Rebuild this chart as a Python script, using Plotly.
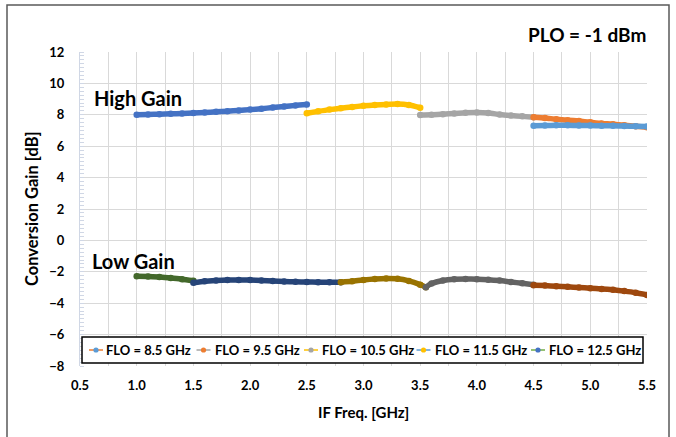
import plotly.graph_objects as go

# ---------------- data ----------------
# High-gain mode, conversion gain [dB] vs IF frequency [GHz]
hg_125_x = [1.0, 1.1, 1.2, 1.3, 1.4, 1.5, 1.6, 1.7, 1.8, 1.9, 2.0, 2.1, 2.2, 2.3, 2.4, 2.5]
hg_125_y = [8.00, 8.02, 8.04, 8.06, 8.09, 8.12, 8.15, 8.19, 8.23, 8.28, 8.33, 8.39, 8.46, 8.53, 8.60, 8.65]

hg_115_x = [2.5, 2.6, 2.7, 2.8, 2.9, 3.0, 3.1, 3.2, 3.3, 3.4, 3.5]
hg_115_y = [8.10, 8.22, 8.33, 8.42, 8.50, 8.57, 8.62, 8.66, 8.68, 8.62, 8.45]

hg_105_x = [3.5, 3.6, 3.7, 3.8, 3.9, 4.0, 4.1, 4.2, 4.3, 4.4, 4.5]
hg_105_y = [7.98, 8.00, 8.04, 8.08, 8.13, 8.15, 8.12, 8.02, 7.95, 7.90, 7.85]

hg_95_x = [4.5, 4.6, 4.7, 4.8, 4.9, 5.0, 5.1, 5.2, 5.3, 5.4, 5.5]
hg_95_y = [7.85, 7.80, 7.72, 7.66, 7.60, 7.52, 7.45, 7.40, 7.33, 7.27, 7.20]

hg_85_x = [4.5, 4.6, 4.7, 4.8, 4.9, 5.0, 5.1, 5.2, 5.3, 5.4, 5.5]
hg_85_y = [7.30, 7.32, 7.33, 7.33, 7.32, 7.32, 7.30, 7.30, 7.28, 7.27, 7.25]

# Low-gain mode
lg_a_x = [1.0, 1.1, 1.2, 1.3, 1.4, 1.5]
lg_a_y = [-2.28, -2.30, -2.33, -2.40, -2.47, -2.57]

lg_b_x = [1.5, 1.6, 1.7, 1.8, 1.9, 2.0, 2.1, 2.2, 2.3, 2.4, 2.5, 2.6, 2.7, 2.8]
lg_b_y = [-2.70, -2.60, -2.55, -2.52, -2.52, -2.53, -2.56, -2.59, -2.62, -2.64, -2.65, -2.66, -2.66, -2.66]

lg_c_x = [2.8, 2.9, 3.0, 3.1, 3.2, 3.3, 3.4, 3.5, 3.55]
lg_c_y = [-2.66, -2.60, -2.52, -2.46, -2.43, -2.45, -2.58, -2.82, -2.98]

lg_d_x = [3.55, 3.6, 3.7, 3.8, 3.9, 4.0, 4.1, 4.2, 4.3, 4.4, 4.5]
lg_d_y = [-2.98, -2.75, -2.55, -2.47, -2.46, -2.47, -2.50, -2.56, -2.65, -2.73, -2.82]

lg_e_x = [4.5, 4.6, 4.7, 4.8, 4.9, 5.0, 5.1, 5.2, 5.3, 5.4, 5.5]
lg_e_y = [-2.85, -2.88, -2.92, -2.96, -3.00, -3.04, -3.09, -3.15, -3.23, -3.33, -3.47]

legend_labels = ["FLO = 8.5 GHz", "FLO = 9.5 GHz", "FLO = 10.5 GHz", "FLO = 11.5 GHz", "FLO = 12.5 GHz"]

x_ticks = [0.5, 1.0, 1.5, 2.0, 2.5, 3.0, 3.5, 4.0, 4.5, 5.0, 5.5]
x_tick_text = ["0.5", "1.0", "1.5", "2.0", "2.5", "3.0", "3.5", "4.0", "4.5", "5.0", "5.5"]
y_ticks = [-8, -6, -4, -2, 0, 2, 4, 6, 8, 10, 12]

# ---------------- styling ----------------
FONT = "Lato"
series = [
    (hg_125_x, hg_125_y, "#4472C4"),
    (hg_115_x, hg_115_y, "#FFC000"),
    (hg_105_x, hg_105_y, "#A5A5A5"),
    (hg_95_x, hg_95_y, "#ED7D31"),
    (hg_85_x, hg_85_y, "#5B9BD5"),
    (lg_a_x, lg_a_y, "#43682B"),
    (lg_b_x, lg_b_y, "#264478"),
    (lg_c_x, lg_c_y, "#997300"),
    (lg_d_x, lg_d_y, "#636363"),
    (lg_e_x, lg_e_y, "#9E480E"),
]

fig = go.Figure()
for xs, ys, col in series:
    fig.add_trace(go.Scatter(
        x=xs, y=ys, mode="lines+markers",
        line=dict(color=col, width=5.5, shape="spline", smoothing=0.6),
        marker=dict(color=col, size=6.5),
        showlegend=False, hoverinfo="x+y",
    ))

# legend drawn in paper coordinates (line colour, marker colour per entry)
legend_line_cols = ["#ED7D31", "#A5A5A5", "#FFC000", "#5B9BD5", "#70AD47"]
legend_mark_cols = ["#5B9BD5", "#ED7D31", "#A5A5A5", "#FFC000", "#4472C4"]
PLOT_L, PLOT_W, PLOT_B, PLOT_H = 80, 567, 366, 314


def px_x(p):
    return (p - PLOT_L) / PLOT_W


def px_y(p):
    return (PLOT_B - p) / PLOT_H


shapes = []
annotations = []
# outer chart frame
shapes.append(dict(type="rect", xref="paper", yref="paper",
                   x0=px_x(7), x1=px_x(669), y0=px_y(460), y1=px_y(5),
                   line=dict(color="#595959", width=1.5), fillcolor="rgba(0,0,0,0)"))
# legend box
shapes.append(dict(type="rect", xref="paper", yref="paper",
                   x0=px_x(82), x1=px_x(643), y0=px_y(363), y1=px_y(337),
                   line=dict(color="#000000", width=1.5), fillcolor="white"))
sym_cx = [96, 203.5, 311, 423.5, 538]
txt_x = [104, 213, 320, 433, 547]
ly = px_y(350)
for i, lab in enumerate(legend_labels):
    shapes.append(dict(type="line", xref="paper", yref="paper",
                       x0=px_x(sym_cx[i] - 7), x1=px_x(sym_cx[i] + 7), y0=ly, y1=ly,
                       line=dict(color=legend_line_cols[i], width=1.5)))
    shapes.append(dict(type="circle", xref="paper", yref="paper",
                       xsizemode="pixel", ysizemode="pixel",
                       xanchor=px_x(sym_cx[i]), yanchor=ly,
                       x0=-2.6, x1=2.6, y0=-2.6, y1=2.6,
                       line=dict(color=legend_mark_cols[i], width=0),
                       fillcolor=legend_mark_cols[i]))
    annotations.append(dict(xref="paper", yref="paper", x=px_x(txt_x[i]), y=ly,
                            xanchor="left", yanchor="middle", showarrow=False,
                            text=lab, font=dict(family=FONT, size=13, color="black", weight="bold")))

# text labels
annotations += [
    dict(xref="x", yref="y", x=0.61, y=9.07, xanchor="left", yanchor="middle",
         showarrow=False, text="High Gain",
         font=dict(family=FONT, size=20, color="black", weight="bold")),
    dict(xref="x", yref="y", x=0.585, y=-1.31, xanchor="left", yanchor="middle",
         showarrow=False, text="Low Gain",
         font=dict(family=FONT, size=20, color="black", weight="bold")),
    dict(xref="paper", yref="paper", x=px_x(648), y=px_y(34), xanchor="right", yanchor="middle",
         showarrow=False, text="PLO = -1 dBm",
         font=dict(family=FONT, size=19, color="black", weight="bold")),
    dict(xref="paper", yref="paper", x=px_x(32), y=0.5, xanchor="center", yanchor="middle",
         showarrow=False, text="Conversion Gain [dB]", textangle=-90,
         font=dict(family=FONT, size=16.5, color="black", weight="bold")),
    dict(xref="paper", yref="paper", x=0.5, y=px_y(412), xanchor="center", yanchor="middle",
         showarrow=False, text="IF Freq. [GHz]",
         font=dict(family=FONT, size=15, color="black", weight="bold")),
]

fig.update_layout(
    width=676, height=437,
    margin=dict(l=80, r=29, t=52, b=71),
    paper_bgcolor="white", plot_bgcolor="white",
    shapes=shapes, annotations=annotations,
    showlegend=False,
    font=dict(family=FONT, color="black"),
)
fig.update_xaxes(
    range=[0.5, 5.5], tickvals=x_ticks, ticktext=x_tick_text,
    showgrid=True, gridcolor="#D9D9D9", gridwidth=1,
    minor=dict(dtick=0.25, showgrid=True, gridcolor="#D9D9D9", gridwidth=1),
    zeroline=False, showline=False, ticks="", ticklabelstandoff=10,
    tickfont=dict(family=FONT, size=13, color="black", weight="bold"),
)
fig.update_yaxes(
    range=[-8, 12], tickvals=y_ticks,
    showgrid=True, gridcolor="#D9D9D9", gridwidth=1,
    minor=dict(dtick=0.25, ticks="inside", ticklen=4, tickcolor="#D0D7E5", showgrid=False),
    zeroline=False, showline=True, linecolor="#D0D7E5", linewidth=1,
    ticks="", ticklabelstandoff=12,
    tickfont=dict(family=FONT, size=13, color="black", weight="bold"),
)

fig.write_html("out.html")
